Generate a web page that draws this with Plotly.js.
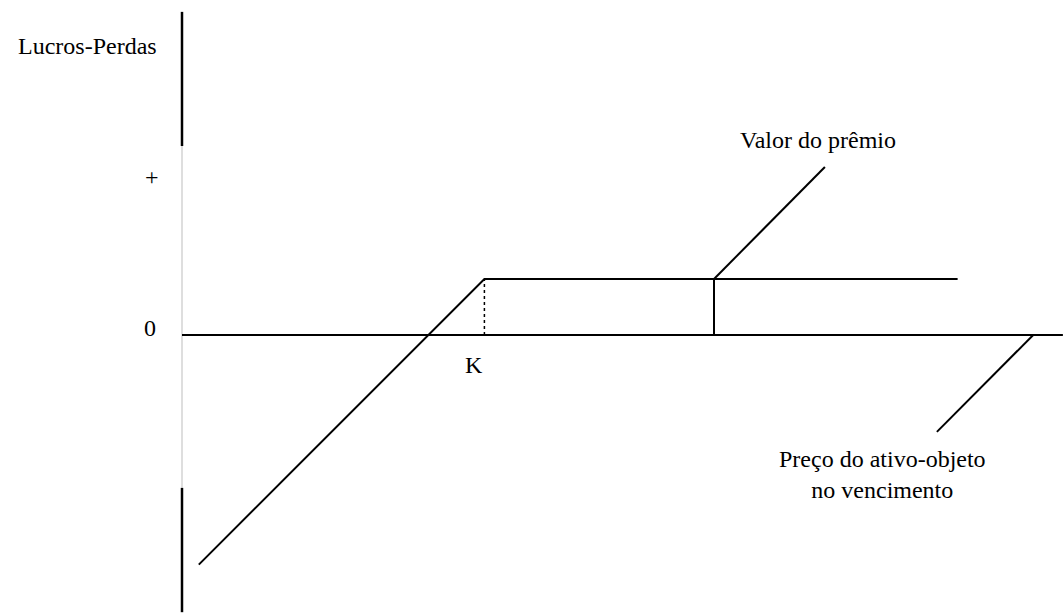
<!DOCTYPE html>
<html>
<head>
<meta charset="utf-8">
<script src="https://cdn.plot.ly/plotly-3.0.1.min.js"></script>
<style>html,body{margin:0;padding:0;background:#fff;}#chart{width:1063px;height:616px;}</style>
</head>
<body>
<div id="chart"></div>
<script>
// Conceptual payoff diagram values (price units on x, profit/loss on y)
const strike = 54;            // K
const premium = 10;           // Valor do prêmio
const priceStart = 3;         // leftmost price drawn
const priceEnd = 138.5;       // rightmost price of the payoff line
const premiumMarkPrice = 95;  // where the premium bracket is drawn
const axisEnd = 157.3;        // end of the horizontal axis
const yAxisTop = [57.7, 33.75];
const yAxisMid = [33.75, -27.3];
const yAxisBottom = [-27.3, -49.5];
const premiumPointer = {x: [95, 114.8], y: [10, 30]};
const pricePointer = {x: [152, 134.8], y: [0, -17.3]};
const payoffX = [priceStart, strike, priceEnd];
const payoffY = [priceStart - (strike - premium), premium, premium];

const labels = {
  yTitle: 'Lucros-Perdas', plus: '+', zero: '0', k: 'K',
  premium: 'Valor do prêmio', price: 'Preço do ativo-objeto<br>no vencimento'
};

const black = '#000000';
const lw = 2;
function seg(x, y, color, width, dash) {
  return {x: x, y: y, mode: 'lines', type: 'scatter', hoverinfo: 'skip',
          line: {color: color, width: width, dash: dash || 'solid'}, showlegend: false};
}
const traces = [
  seg([0, 0], yAxisMid, '#c8c8c8', 1.2),
  seg([0, 0], yAxisTop, black, 2.5),
  seg([0, 0], yAxisBottom, black, 2.5),
  seg([0, axisEnd], [0, 0], black, lw),
  seg(payoffX, payoffY, black, lw),
  seg([strike, strike], [0, premium], black, 1.5, 'dot'),
  seg([premiumMarkPrice, premiumMarkPrice], [0, premium], black, lw),
  seg(premiumPointer.x, premiumPointer.y, black, lw),
  seg(pricePointer.x, pricePointer.y, black, lw)
];

const font = {family: '"Liberation Serif", "Times New Roman", serif', size: 24, color: '#000'};
function ann(text, x, y, extra) {
  return Object.assign({text: text, x: x, y: y, xref: 'x', yref: 'y', showarrow: false,
    font: font, xanchor: 'center', yanchor: 'middle'}, extra || {});
}
const layout = {
  width: 1063, height: 616,
  margin: {l: 0, r: 0, t: 0, b: 0, pad: 0},
  paper_bgcolor: '#fff', plot_bgcolor: '#fff',
  xaxis: {range: [-32.5, 157.32], visible: false, fixedrange: true},
  yaxis: {range: [-50.18, 59.82], visible: false, fixedrange: true},
  annotations: [
    ann(labels.yTitle, -16.9, 51.6),
    ann(labels.plus, -5.4, 28.2),
    ann(labels.zero, -5.7, 1.25),
    ann(labels.k, 52.1, -5.4),
    ann(labels.premium, 113.5, 34.8),
    ann(labels.price, 125, -25.0, {align: 'center'})
  ]
};
Plotly.newPlot('chart', traces, layout, {displayModeBar: false, staticPlot: true});
</script>
</body>
</html>
